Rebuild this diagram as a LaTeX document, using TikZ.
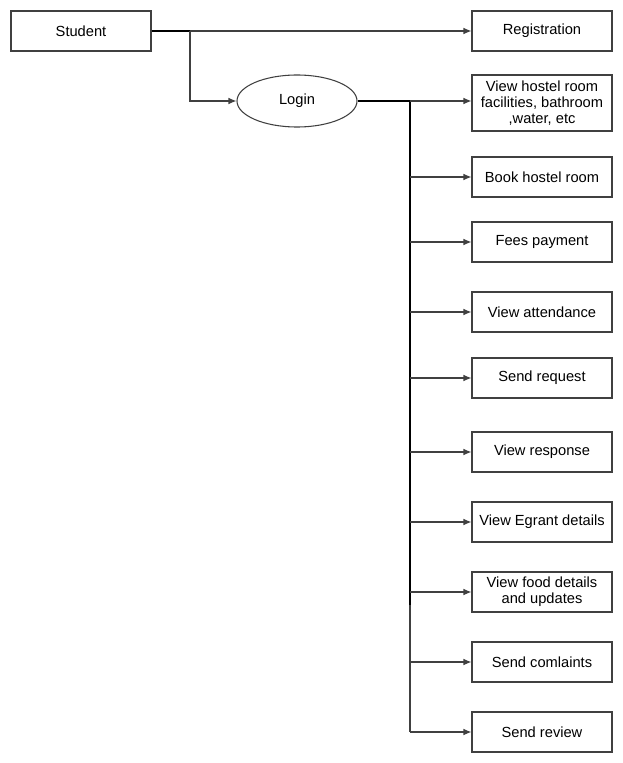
\documentclass[tikz,border=0pt]{standalone}
\usepackage{fontspec}
\setmainfont{Liberation Sans}
\usetikzlibrary{arrows.meta,shapes.geometric}
\begin{document}
\begin{tikzpicture}[x=0.75pt,y=-0.75pt,
  box/.style={draw=black!75,line width=0.8pt,minimum width=105pt,minimum height=30pt,
    inner sep=1pt,align=center,font=\fontsize{11}{12}\selectfont},
  link/.style={draw=black!75,line width=0.8pt,-{Latex[length=6pt,width=5pt]}},
  bus/.style={draw=black,line width=1.5pt}]
  \useasboundingbox (0,0) rectangle (623,763);
  % left side
  \node[box] (student) at (81,31) {Student};
  \node[box,ellipse,minimum width=90pt,minimum height=39pt] (login) at (297,101) {Login};
  \coordinate (split) at (190,31);
  % right column
  \node[box] (reg) at (542,31) {Registration};
  \node[box,minimum height=42pt] (facil) at (542,103) {View hostel room\\facilities, bathroom\\,water, etc};
  \node[box] (book) at (542,177) {Book hostel room};
  \node[box] (fees) at (542,242) {Fees payment};
  \node[box] (attend) at (542,312) {View attendance};
  \node[box] (request) at (542,378) {Send request};
  \node[box] (response) at (542,452) {View response};
  \node[box] (egrant) at (542,522) {View Egrant details};
  \node[box] (food) at (542,592) {View food details\\and updates};
  \node[box] (complaint) at (542,662) {Send comlaints};
  \node[box] (review) at (542,732) {Send review};
  % connectors
  \draw[bus] (student.east) -- (split);
  \draw[link] (split) -- (reg);
  \draw[link] (split) |- (login.west);
  \coordinate (bustop) at (410,101);
  \coordinate (busmid) at (410,605);
  \draw[bus] (login.east) -- (bustop) -- (busmid);
  \draw[link,-] (busmid) -- (bustop |- review.west);
  \draw[link] (bustop) -- (bustop -| facil.west);
  \foreach \n in {book,fees,attend,request,response,egrant,food,complaint,review}
    \draw[link] (bustop |- \n.west) -- (\n.west);
\end{tikzpicture}
\end{document}
